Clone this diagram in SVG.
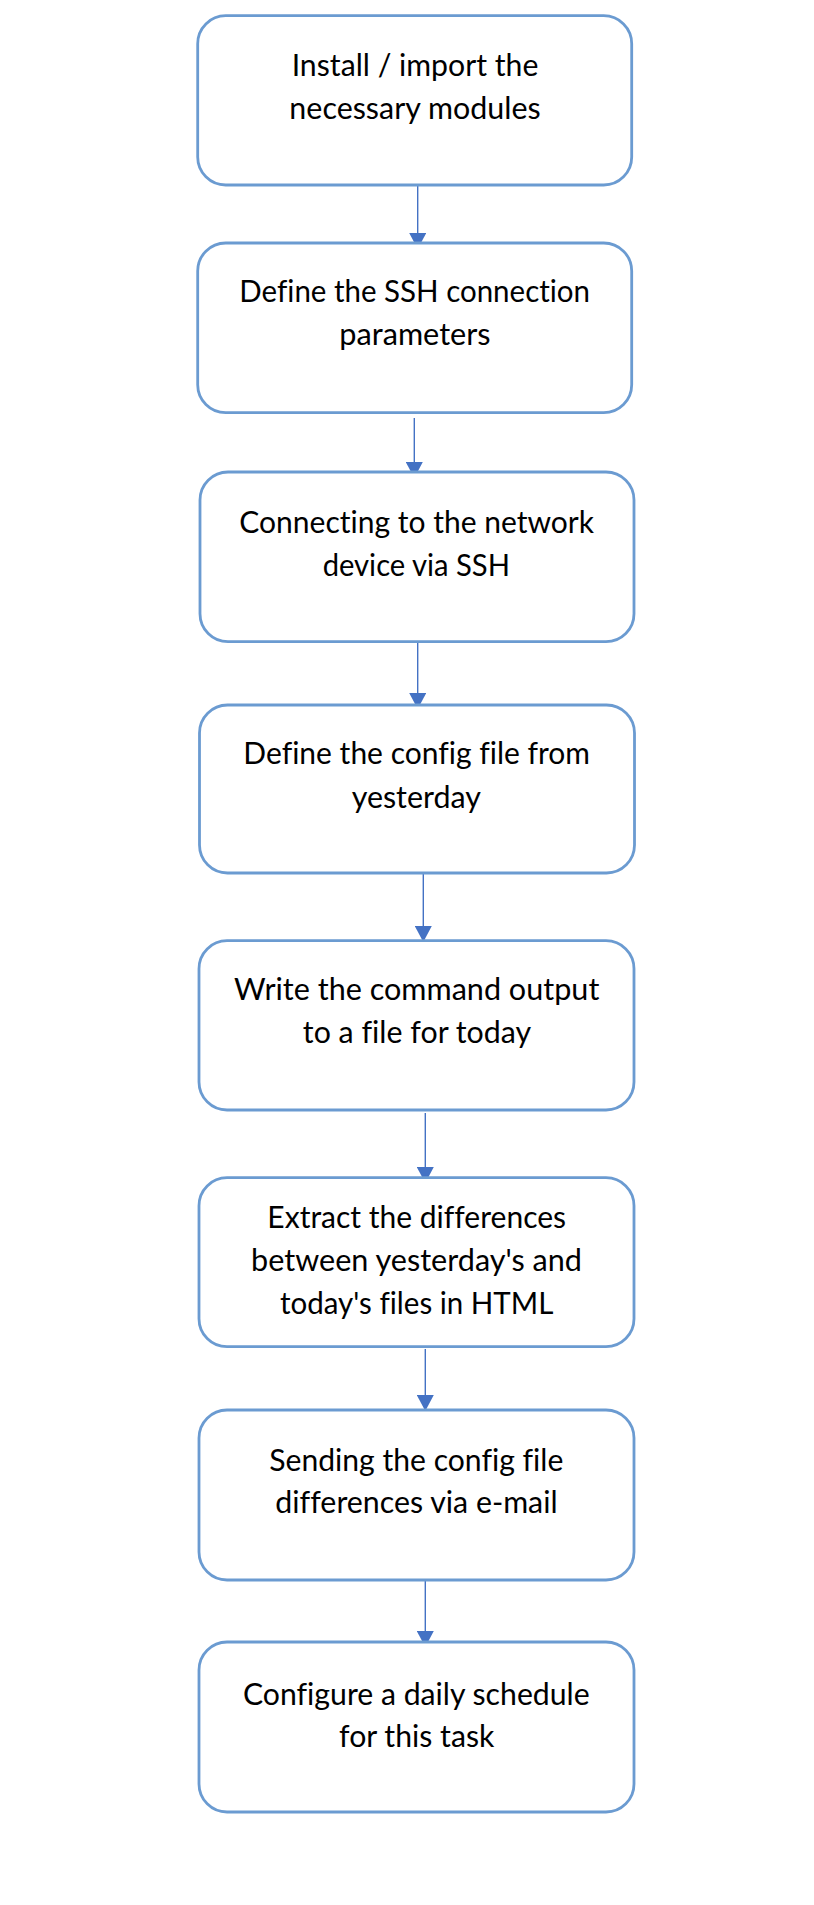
<svg xmlns="http://www.w3.org/2000/svg" width="814" height="1905" viewBox="0 0 814 1905">
<defs>
<style>
.box{fill:#ffffff;stroke:#6b9bd1;stroke-width:2.8}
.lbl{font-family:Lato,"Open Sans","Liberation Sans",sans-serif;font-size:30.5px;fill:#000000;text-anchor:middle;font-variant-ligatures:none;font-feature-settings:"liga" 0}
.conn{stroke:#4472c4;stroke-width:1.4;fill:none}
.head{fill:#4472c4}
</style>
<marker id="ah" viewBox="0 0 16 17" refX="16" refY="8.5" markerWidth="16" markerHeight="17" markerUnits="userSpaceOnUse" orient="auto">
<path d="M0,0 L16,8.5 L0,17 Z" class="head"/>
</marker>
</defs>
<rect width="814" height="1905" fill="#ffffff"/>
<g id="connectors">
<line class="conn" x1="417.7" y1="185" x2="417.7" y2="249" marker-end="url(#ah)"/>
<line class="conn" x1="414.3" y1="418" x2="414.3" y2="478" marker-end="url(#ah)"/>
<line class="conn" x1="417.7" y1="642" x2="417.7" y2="709" marker-end="url(#ah)"/>
<line class="conn" x1="423.3" y1="873" x2="423.3" y2="942" marker-end="url(#ah)"/>
<line class="conn" x1="425.3" y1="1113" x2="425.3" y2="1183" marker-end="url(#ah)"/>
<line class="conn" x1="425.3" y1="1349" x2="425.3" y2="1411" marker-end="url(#ah)"/>
<line class="conn" x1="425.3" y1="1581" x2="425.3" y2="1647" marker-end="url(#ah)"/>
</g>
<g id="node1">
<rect class="box" x="197.7" y="15.7" width="434" height="169.3" rx="28" ry="28"/>
<text class="lbl" x="415" y="76" textLength="246.7" lengthAdjust="spacingAndGlyphs">Install / import the</text>
<text class="lbl" x="415" y="118.7" textLength="251.3" lengthAdjust="spacingAndGlyphs">necessary modules</text>
</g>
<g id="node2">
<rect class="box" x="197.7" y="243" width="434" height="169.7" rx="28" ry="28"/>
<text class="lbl" x="414.7" y="301.7" textLength="350.7" lengthAdjust="spacingAndGlyphs">Define the SSH connection</text>
<text class="lbl" x="415" y="345" textLength="151.3" lengthAdjust="spacingAndGlyphs">parameters</text>
</g>
<g id="node3">
<rect class="box" x="200" y="472" width="434" height="169.7" rx="28" ry="28"/>
<text class="lbl" x="416.7" y="532.7" textLength="354.7" lengthAdjust="spacingAndGlyphs">Connecting to the network</text>
<text class="lbl" x="416.3" y="575.7" textLength="187.3" lengthAdjust="spacingAndGlyphs">device via SSH</text>
</g>
<g id="node4">
<rect class="box" x="199.5" y="705" width="435" height="168" rx="28" ry="28"/>
<text class="lbl" x="416.7" y="764" textLength="346.7" lengthAdjust="spacingAndGlyphs">Define the config file from</text>
<text class="lbl" x="416.3" y="807.7" textLength="129.3" lengthAdjust="spacingAndGlyphs">yesterday</text>
</g>
<g id="node5">
<rect class="box" x="199" y="940.7" width="435" height="169.3" rx="28" ry="28"/>
<text class="lbl" x="416.7" y="1000" textLength="365.3" lengthAdjust="spacingAndGlyphs">Write the command output</text>
<text class="lbl" x="417" y="1043" textLength="228.3" lengthAdjust="spacingAndGlyphs">to a file for today</text>
</g>
<g id="node6">
<rect class="box" x="199" y="1177.7" width="435" height="169" rx="28" ry="28"/>
<text class="lbl" x="416.7" y="1228" textLength="298.7" lengthAdjust="spacingAndGlyphs">Extract the differences</text>
<text class="lbl" x="416.5" y="1270.7" textLength="331" lengthAdjust="spacingAndGlyphs">between yesterday's and</text>
<text class="lbl" x="416.7" y="1314" textLength="273.3" lengthAdjust="spacingAndGlyphs">today's files in HTML</text>
</g>
<g id="node7">
<rect class="box" x="199" y="1410" width="435" height="170" rx="28" ry="28"/>
<text class="lbl" x="416.3" y="1470.7" textLength="294" lengthAdjust="spacingAndGlyphs">Sending the config file</text>
<text class="lbl" x="416.5" y="1513" textLength="282.3" lengthAdjust="spacingAndGlyphs">differences via e-mail</text>
</g>
<g id="node8">
<rect class="box" x="199" y="1642" width="435" height="170" rx="28" ry="28"/>
<text class="lbl" x="416.3" y="1705" textLength="346.7" lengthAdjust="spacingAndGlyphs">Configure a daily schedule</text>
<text class="lbl" x="416.7" y="1746.7" textLength="155.3" lengthAdjust="spacingAndGlyphs">for this task</text>
</g>
</svg>
